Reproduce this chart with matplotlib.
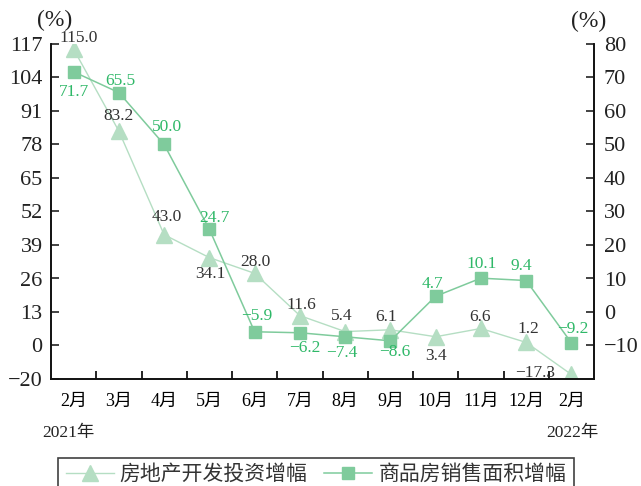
import matplotlib
matplotlib.use("Agg")
import matplotlib.pyplot as plt
import numpy as np

plt.rcParams['font.family'] = ['Liberation Serif', 'Noto Sans CJK SC']
plt.rcParams['axes.unicode_minus'] = True

# 数据
months = ['2月', '3月', '4月', '5月', '6月', '7月', '8月', '9月', '10月', '11月', '12月', '2月']
invest = [115.0, 83.2, 43.0, 34.1, 28.0, 11.6, 5.4, 6.1, 3.4, 6.6, 1.2, -17.3]
sales = [71.7, 65.5, 50.0, 24.7, -5.9, -6.2, -7.4, -8.6, 4.7, 10.1, 9.4, -9.2]
left_ticks = [-20, 0, 13, 26, 39, 52, 65, 78, 91, 104, 117]
right_ticks = [-10, 0, 10, 20, 30, 40, 50, 60, 70, 80]
invest_name = '房地产开发投资增幅'
sales_name = '商品房销售面积增幅'

# 标签位置 (像素偏移)
invest_off = [(5, 11), (0, 15), (3, 18), (1, -16), (1, 11), (1, 11), (-3, 16), (-4, 13), (0, -19), (-1, 11), (2, 13), (-36, 1)]
sales_off = [(0, -20), (1, 12), (3, 17), (5, 11), (2, 16), (5, -15), (-3, -16), (4, -11), (-3, 12), (1, 14), (-5, 15), (1, 14)]

c_tri = '#b5dec3'
c_sq = '#7fcb9c'
c_sq_txt = '#2fb868'
c_txt = '#333333'


def fwd(y):
    y = np.asarray(y, dtype=float)
    return np.where(y >= 0, y / 13.0, y / 20.0)


def inv(t):
    t = np.asarray(t, dtype=float)
    return np.where(t >= 0, t * 13.0, t * 20.0)


fig = plt.figure(figsize=(6.41, 4.86), dpi=100)
ax = fig.add_axes([51 / 641, 1 - 379 / 486, 543 / 641, 335 / 486])
ax2 = ax.twinx()

x = np.arange(len(months))
ax.plot(x, invest, color=c_tri, lw=1.0, marker='^', ms=12, mec=c_tri, mfc=c_tri, label=invest_name)
ax2.plot(x, sales, color=c_sq, lw=1.1, marker='s', ms=9, mec=c_sq, mfc=c_sq, label=sales_name)

ax.set_yscale('function', functions=(fwd, inv))
ax.set_ylim(-20, 117)
ax.set_yticks(left_ticks)
ax.set_yticklabels([str(v).replace('-', '\u2212') for v in left_ticks])
ax2.set_ylim(-20, 80)
ax2.set_yticks(right_ticks)
ax2.set_yticklabels([str(v).replace('-', '\u2212') for v in right_ticks])

ax.set_xlim(-0.5, len(months) - 0.5)
ax.set_xticks(np.arange(0.5, len(months) - 0.5, 1.0))
ax.set_xticklabels([])
ax.set_xticks(x, minor=True)
ax.set_xticklabels(months, minor=True, fontsize=13)
ax.tick_params(axis='x', which='minor', length=0, pad=10)
ax.tick_params(axis='x', which='major', direction='in', length=6, width=1.2)
ax.tick_params(axis='y', direction='in', length=6, width=1.2, labelsize=16, pad=6, colors='#222222')
ax2.tick_params(axis='y', direction='in', length=6, width=1.2, labelsize=16, pad=7, colors='#222222')

for a in (ax, ax2):
    a.spines['top'].set_visible(False)
    for s in ('left', 'right', 'bottom'):
        a.spines[s].set_linewidth(1.2)
        a.spines[s].set_color('#111111')

k = 72 / 100.0
for i, v in enumerate(invest):
    dx, dy = invest_off[i]
    ax.annotate(f'{v:.1f}'.replace('-', '\u2212'), (x[i], v), xytext=(dx * k, dy * k),
                textcoords='offset points', ha='center', va='center', fontsize=12.5, color=c_txt)
for i, v in enumerate(sales):
    dx, dy = sales_off[i]
    ax2.annotate(f'{v:.1f}'.replace('-', '\u2212'), (x[i], v), xytext=(dx * k, dy * k),
                 textcoords='offset points', ha='center', va='center', fontsize=12.5, color=c_sq_txt)

fig.text(55 / 641, 1 - 20 / 486, '(%)', ha='center', va='center', fontsize=17, color='#222222')
fig.text(589 / 641, 1 - 21 / 486, '(%)', ha='center', va='center', fontsize=17, color='#222222')
fig.text(68 / 641, 1 - 433 / 486, '2021年', ha='center', va='center', fontsize=12.5, color='#222222')
fig.text(572 / 641, 1 - 433 / 486, '2022年', ha='center', va='center', fontsize=12.5, color='#222222')

h1, l1 = ax.get_legend_handles_labels()
h2, l2 = ax2.get_legend_handles_labels()
leg = fig.legend(h1 + h2, l1 + l2, loc='upper center', bbox_to_anchor=(316 / 641, 1 - 458 / 486),
                 ncol=2, frameon=True, fancybox=False, fontsize=15, handlelength=2.3,
                 columnspacing=0.8, handletextpad=0.3, borderpad=0.35, borderaxespad=0)
leg.get_frame().set_edgecolor('#111111')
leg.get_frame().set_linewidth(1.2)
for t in leg.get_texts():
    t.set_color('#333333')

fig.savefig('out.png', dpi=100)
